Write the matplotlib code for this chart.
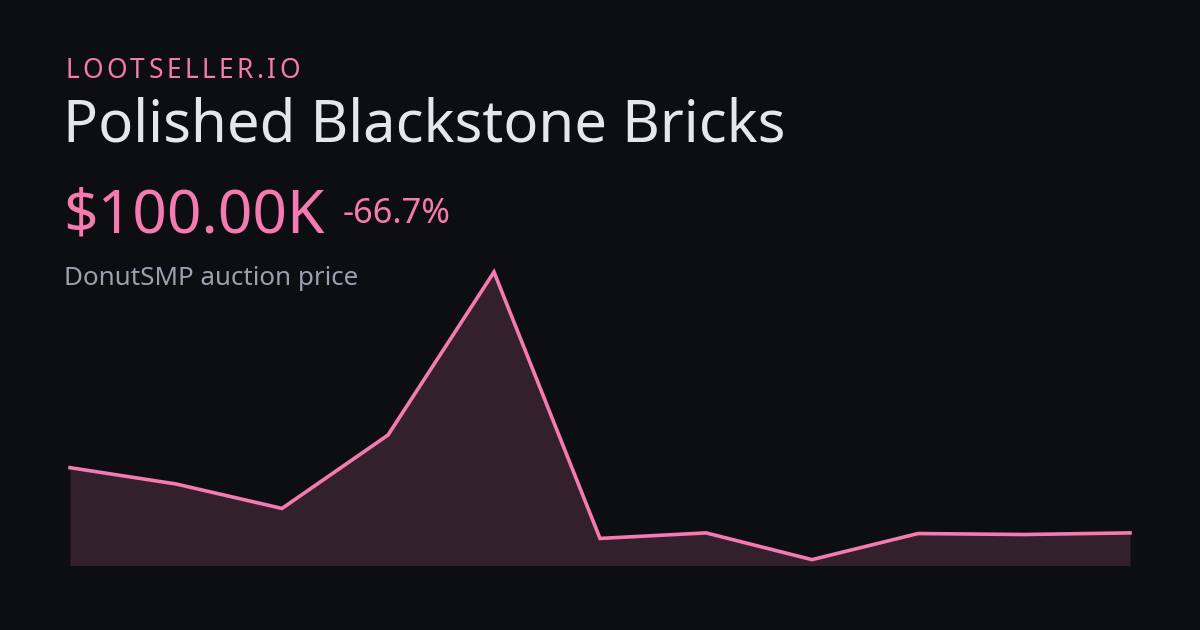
import numpy as np
import matplotlib
matplotlib.use("Agg")
from matplotlib import pyplot as plt

# 資料
days = list(range(11))
prices = [300000, 250000, 175000, 400000, 900000, 83000, 100000, 18000, 98000, 95000, 100000]

item_name = "Polished Blackstone Bricks"
site_name = "LOOTSELLER.IO"
price_label = "$100.00K"
change_label = "-66.7%"
sub_label = "DonutSMP auction price"

bg = "#0d0e12"
pink = "#f47ab0"
fill_c = "#32202c"

plt.rcParams['font.family'] = ['Noto Sans', 'DejaVu Sans']

W, H = 1200, 630
fig = plt.figure(figsize=(12, 6.3), dpi=100, facecolor=bg)

def px(x, y):
    return x / W, 1 - y / H

# 折線圖區域
ax = fig.add_axes([70 / W, 1 - 565.5 / H, 1060 / W, 293.5 / H])
ax.set_facecolor(bg)
ax.fill_between(days, prices, 0, color=fill_c, lw=0)
ax.plot(days, prices, color=pink, lw=2.6, solid_joinstyle='miter', clip_on=False)
ax.set_xlim(days[0], days[-1])
ax.set_ylim(0, max(prices))
ax.axis('off')

# 字距加寬的網站名稱
fig.canvas.draw()
r = fig.canvas.get_renderer()
x = 65
for ch in site_name:
    t = fig.text(*px(x, 78), ch, color=pink, fontsize=19, va='baseline', ha='left')
    bb = t.get_window_extent(r)
    x = bb.x1 + 3.4

fig.text(*px(63, 142), item_name, color="#e6e7eb", fontsize=41.8, va='baseline')
fig.text(*px(63, 233), price_label, color=pink, fontsize=43.5, va='baseline')
fig.text(*px(343, 223), change_label, color=pink, fontsize=24.8, va='baseline')
fig.text(*px(64, 285), sub_label, color="#9aa0ad", fontsize=18.7, va='baseline')

fig.savefig("out.png", dpi=100, facecolor=bg)
